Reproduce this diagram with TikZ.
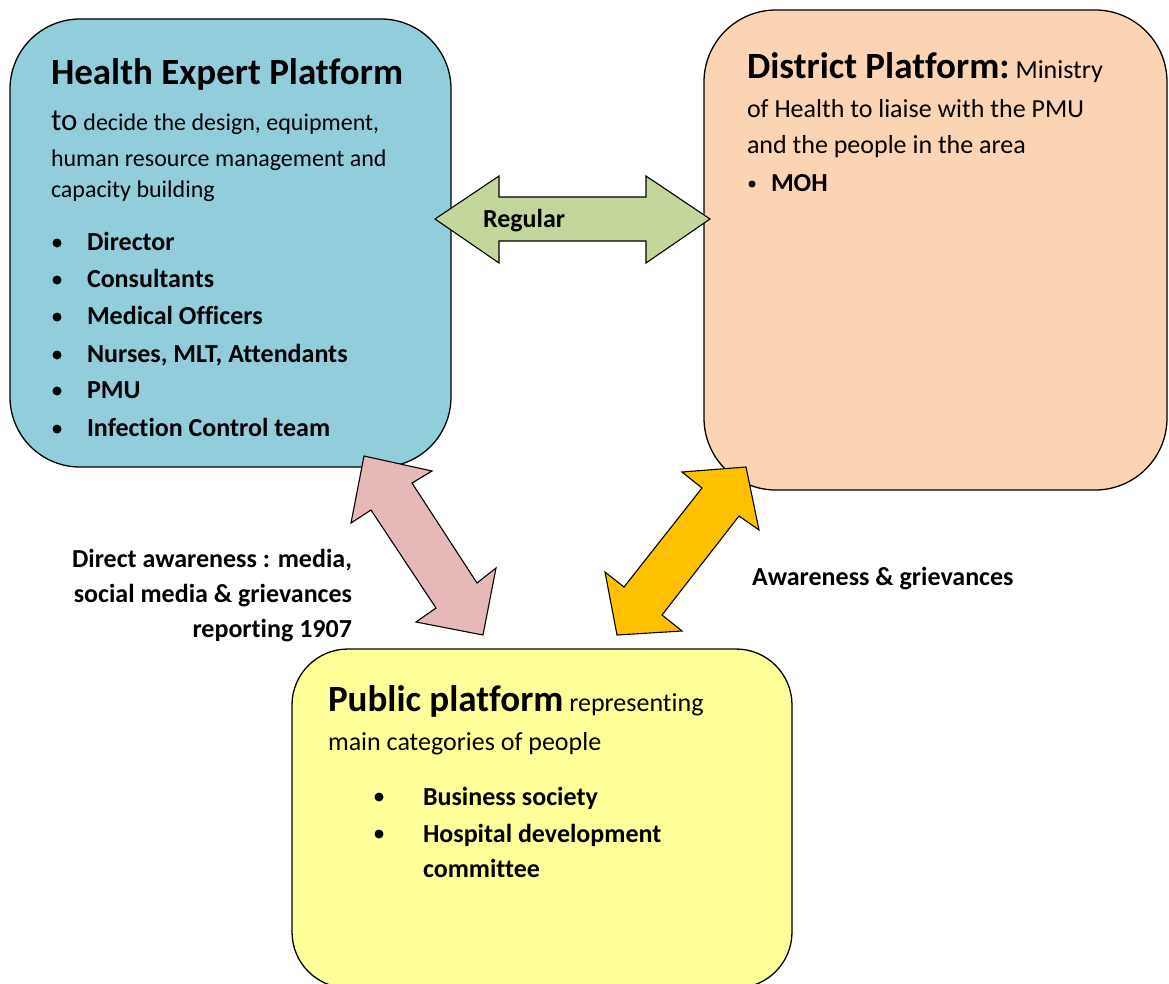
\documentclass[tikz,border=0pt]{standalone}
\usepackage{fontspec}
\setmainfont{Carlito}[Ligatures={NoCommon}]
\newcommand\ttlf{\fontsize{37}{44}\selectfont\bfseries}
\newcommand\bdyf{\fontsize{26}{31}\selectfont}
\newcommand\smlf{\fontsize{24}{29}\selectfont}
\definecolor{bluebox}{HTML}{92CDDC}
\definecolor{orangebox}{HTML}{FBD4B4}
\definecolor{yellowbox}{HTML}{FFFF99}
\definecolor{greenarr}{HTML}{C3D69B}
\definecolor{pinkarr}{HTML}{E6B9B8}
\definecolor{goldarr}{HTML}{FFC000}
\begin{document}
\begin{tikzpicture}[x=1pt,y=-1pt,
  boxshape/.style={draw=black,line width=1.3pt},
  blockarrow/.style={draw=black,line width=1.1pt,line join=miter},
  txt/.style={inner sep=0pt,outer sep=0pt,anchor=base west},
  rtxt/.style={inner sep=0pt,outer sep=0pt,anchor=base east},
  dot/.style={fill=black}]
\useasboundingbox (0,0) rectangle (1169,983);
\begin{scope}
\clip (0,0) rectangle (1169,983);
% boxes
\draw[boxshape,fill=bluebox,rounded corners=70pt] (10,19) rectangle (451,467);
\draw[boxshape,fill=orangebox,rounded corners=72pt] (704,10) rectangle (1167,490);
\draw[boxshape,fill=yellowbox,rounded corners=56pt] (292,649) rectangle (792,988);
\end{scope}
% block arrows
\draw[blockarrow,fill=greenarr] (435,219) -- (499,176) -- (499,197) -- (646,197) -- (646,176) -- (710,219) -- (646,263) -- (646,241) -- (499,241) -- (499,263) -- cycle;
\draw[blockarrow,fill=pinkarr] (364,456) -- (432,471) -- (412,483) -- (477,583) -- (496,568) -- (483,635) -- (416,622) -- (436,608) -- (371,510) -- (351,523) -- cycle;
\draw[blockarrow,fill=goldarr] (746,467) -- (759,530) -- (739,516) -- (662,615) -- (682,631) -- (617,635) -- (605,572) -- (624,587) -- (702,488) -- (682,472) -- cycle;
% Health expert platform
\node[txt] (het) at (51,84) {\ttlf Health Expert Platform};
\node[txt] (he1) at (51,130) {{\fontsize{31}{36}\selectfont to}\hspace{6pt}\smlf decide the design, equipment,};
\node[txt] (he2) at (51,166) {\smlf human resource management and};
\node[txt] (he3) at (51,197) {\smlf capacity building};
\foreach \yy/\tt [count=\i] in {250/Director,287/Consultants,324/Medical Officers,362/{Nurses, MLT, Attendants},398/PMU,436/Infection Control team}{
  \fill[dot] (57,\yy-7) circle (4.5pt);
  \node[txt] (heb\i) at (87,\yy) {\bdyf\bfseries \tt};
}
% District platform
\node[txt] (dpt) at (747,78) {\ttlf District Platform:\hspace{6pt}\bdyf\mdseries Ministry};
\node[txt] (dp1) at (747,117) {\bdyf of Health to liaise with the PMU};
\node[txt] (dp2) at (747,153) {\bdyf and the people in the area};
\fill[dot] (752,184) circle (3.5pt);
\node[txt] (dpb) at (771,191) {\bdyf\bfseries MOH};
% Public platform
\node[txt] (ppt) at (328,711) {\ttlf Public platform\hspace{6pt}\bdyf\mdseries representing};
\node[txt] (pp1) at (328,750) {\bdyf main categories of people};
\fill[dot] (379,797) circle (4.5pt);
\fill[dot] (379,834) circle (4.5pt);
\node[txt] (ppb1) at (423,805) {\bdyf\bfseries Business society};
\node[txt] (ppb2) at (423,842) {\bdyf\bfseries Hospital development};
\node[txt] (ppb3) at (423,877) {\bdyf\bfseries committee};
% labels
\node[txt] (reg) at (483,227) {\bdyf\bfseries Regular};
\node[rtxt] (la1) at (352,567) {\bdyf\bfseries Direct awareness : media,};
\node[rtxt] (la2) at (352,602) {\bdyf\bfseries social media \& grievances};
\node[rtxt] (la3) at (352,637) {\bdyf\bfseries reporting 1907};
\node[txt] (ra) at (752,585) {\bdyf\bfseries Awareness \& grievances};
\end{tikzpicture}
\end{document}
